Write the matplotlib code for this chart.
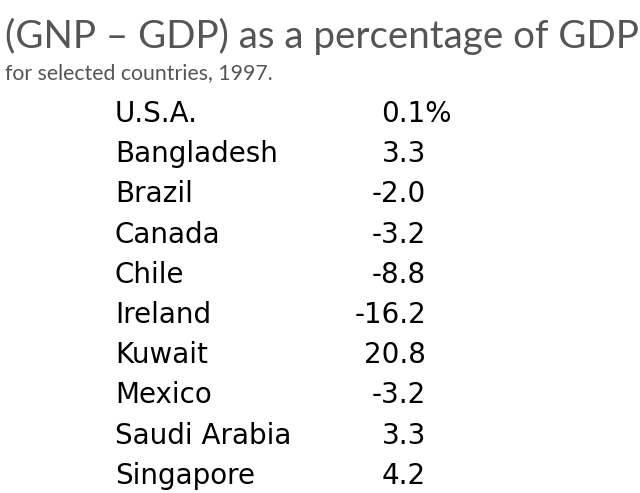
import matplotlib
matplotlib.use("Agg")
import matplotlib.pyplot as plt

title = "(GNP \u2013 GDP) as a percentage of GDP"
subtitle = "for selected countries, 1997."
countries = ["U.S.A.", "Bangladesh", "Brazil", "Canada", "Chile",
             "Ireland", "Kuwait", "Mexico", "Saudi Arabia", "Singapore"]
values = [0.1, 3.3, -2.0, -3.2, -8.8, -16.2, 20.8, -3.2, 3.3, 4.2]

W, H = 640, 493
fig = plt.figure(figsize=(W / 100, H / 100), dpi=100)
fig.patch.set_facecolor("white")

def px(x, y):
    return x / W, 1 - y / H

renderer = fig.canvas.get_renderer()

def fit_text(x, y, s, width, size, **kw):
    t = fig.text(*px(x, y), s, fontsize=size, ha="left", va="baseline", **kw)
    w = t.get_window_extent(renderer).width
    t.set_fontsize(size * width / w)
    return t

gray = "#555555"
fit_text(5, 48, title, 632, 29, family="Lato", color=gray)
fit_text(5, 79, subtitle, 267, 17, family="Lato", color=gray)

row0 = 122
step = 40.2
fs = 20
for i, (c, v) in enumerate(zip(countries, values)):
    y = row0 + i * step
    fig.text(*px(115, y), c, fontsize=fs, family="DejaVu Sans", color="black",
             ha="left", va="baseline")
    s = f"{v:.1f}"
    if i == 0:
        fig.text(*px(381, y), s + "%", fontsize=fs, family="DejaVu Sans",
                 color="black", ha="left", va="baseline")
    else:
        fig.text(*px(426, y), s, fontsize=fs, family="DejaVu Sans",
                 color="black", ha="right", va="baseline")

fig.savefig("out.png", dpi=100, facecolor="white")
